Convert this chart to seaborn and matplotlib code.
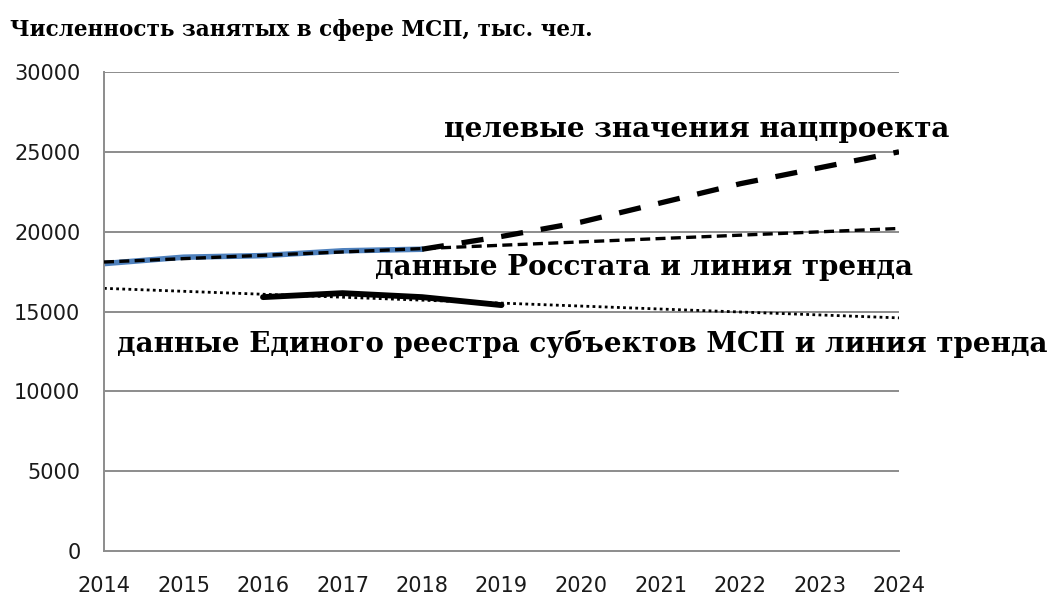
import numpy as np
import pandas as pd
import matplotlib
matplotlib.use("Agg")
import matplotlib.pyplot as plt
import seaborn as sns

# --- Data (thousand people) ---
rosstat_years = [2014, 2015, 2016, 2017, 2018]
rosstat_values = [18000, 18400, 18500, 18800, 18900]

rosstat_trend_years = [2014, 2024]
rosstat_trend_values = [18100, 20200]

target_years = [2018, 2019, 2020, 2021, 2022, 2023, 2024]
target_values = [18900, 19700, 20600, 21800, 23000, 24000, 25000]

registry_years = [2016, 2017, 2018, 2019]
registry_values = [15900, 16150, 15900, 15400]

registry_trend_years = [2014, 2024]
registry_trend_values = [16450, 14600]

x_ticks = list(range(2014, 2025))
y_ticks = [0, 5000, 10000, 15000, 20000, 25000, 30000]

title = "Численность занятых в сфере МСП, тыс. чел."
label_target = "целевые значения нацпроекта"
label_rosstat = "данные Росстата и линия тренда"
label_registry = "данные Единого реестра субъектов МСП и линия тренда"

# --- Plot ---
sns.set_style("white")
fig = plt.figure(figsize=(10.53, 5.97), dpi=100)
ax = fig.add_axes([104 / 1053, 46 / 597, 795 / 1053, 479 / 597])

grid_color = "#8c8c8c"
for y in y_ticks[1:]:
    ax.axhline(y, color=grid_color, lw=1.4, zorder=0)

sns.lineplot(x=rosstat_years, y=rosstat_values, ax=ax, color="#4f81bd", lw=4, zorder=2)
sns.lineplot(x=rosstat_trend_years, y=rosstat_trend_values, ax=ax, color="black",
             lw=2.4, linestyle=(0, (3, 1.6)), zorder=3)
sns.lineplot(x=target_years, y=target_values, ax=ax, color="black",
             lw=3.8, linestyle=(0, (4.2, 3.4)), zorder=4)
sns.lineplot(x=registry_trend_years, y=registry_trend_values, ax=ax, color="black",
             lw=2.0, linestyle=(0, (1, 1.2)), zorder=2)
sns.lineplot(x=registry_years, y=registry_values, ax=ax, color="black", lw=4.2, zorder=3)

ax.set_xlim(2014, 2024)
ax.set_ylim(0, 30000)
ax.set_xticks(x_ticks)
ax.set_yticks(y_ticks)
ax.set_xticklabels([str(v) for v in x_ticks])
ax.set_yticklabels([str(v) for v in y_ticks])
ax.tick_params(axis="both", direction="out", length=7, width=1.4, color=grid_color,
               labelsize=15, labelcolor="#1a1a1a")
ax.tick_params(axis="y", pad=10)
ax.tick_params(axis="x", pad=11)

for side in ["top", "right"]:
    ax.spines[side].set_visible(False)
for side in ["left", "bottom"]:
    ax.spines[side].set_color(grid_color)
    ax.spines[side].set_linewidth(1.4)

serif = {"family": "DejaVu Serif", "weight": "bold", "color": "black"}
ax.text(2018.28, 25930, label_target, fontsize=20, va="baseline", ha="left", clip_on=False, **serif)
ax.text(2017.41, 17286, label_rosstat, fontsize=20, va="baseline", ha="left", clip_on=False, **serif)
ax.text(2014.16, 12463, label_registry, fontsize=20, va="baseline", ha="left", clip_on=False, **serif)

fig.text(10 / 1053, 1 - 36 / 597, title, fontsize=15.5, va="baseline", ha="left", **serif)

fig.savefig("out.png", dpi=100)
